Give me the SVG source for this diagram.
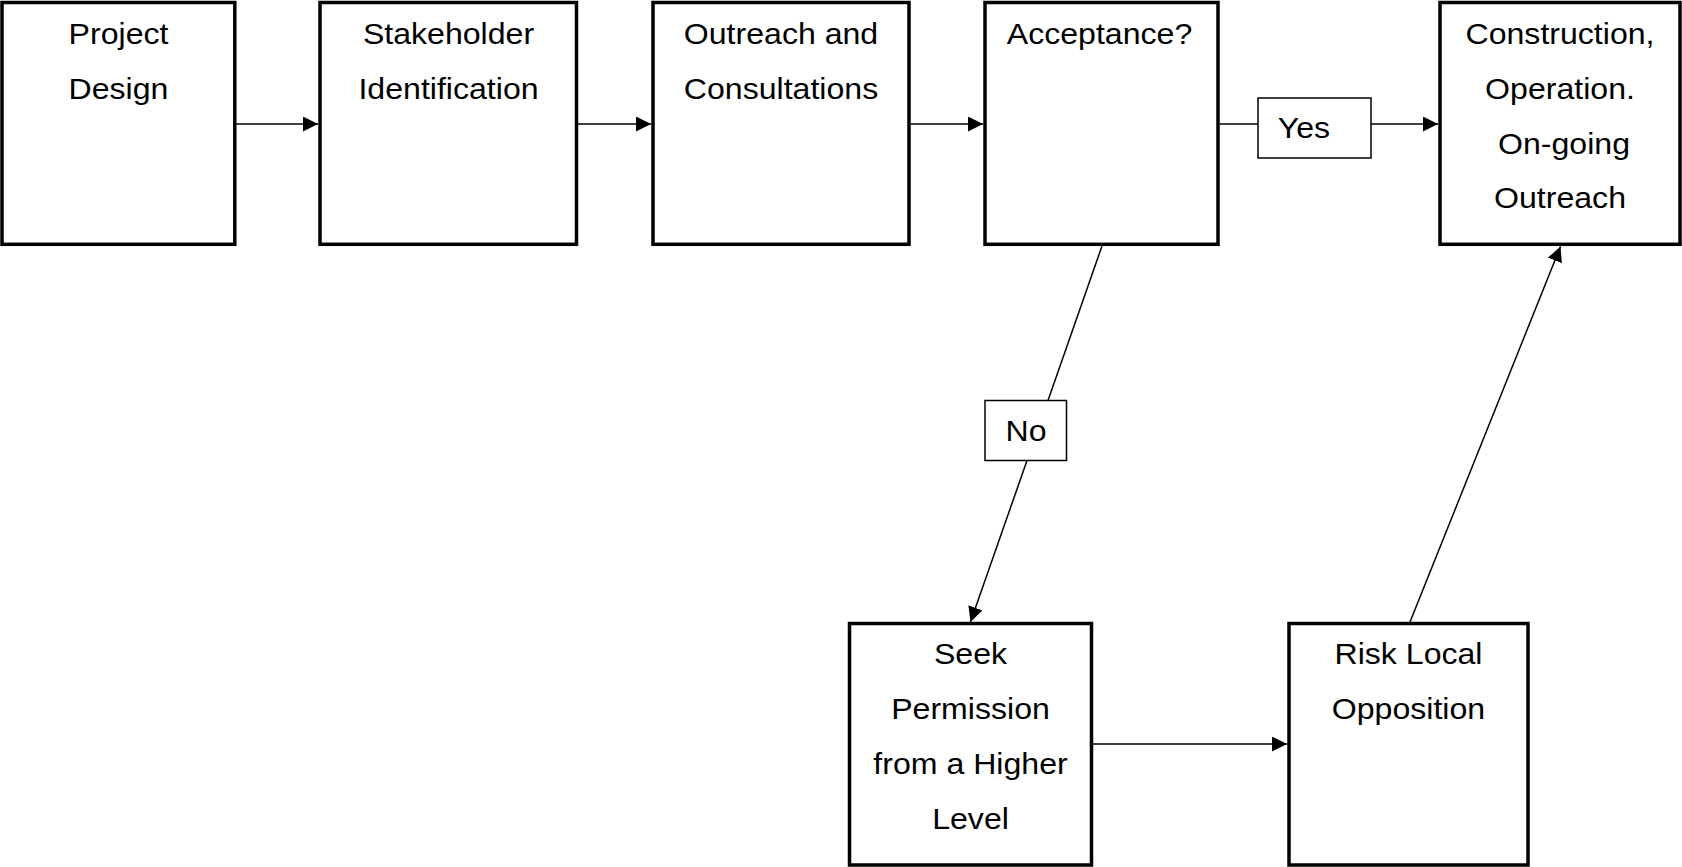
<svg xmlns="http://www.w3.org/2000/svg" width="1682" height="867" viewBox="0 0 1682 867">
<defs>
<style>
.node{fill:#fff;stroke:#000;stroke-width:3.5}
.lbl{fill:#fff;stroke:#000;stroke-width:1.5}
.c{fill:none;stroke:#000;stroke-width:1.5}
text{font-family:"Liberation Sans",Arial,Helvetica,sans-serif;font-size:30px;fill:#000;text-anchor:middle}
</style>
<marker id="ah" markerUnits="userSpaceOnUse" markerWidth="16" markerHeight="16" refX="15" refY="7.5" orient="auto">
<path d="M0,0 L15,7.5 L0,15 z" fill="#000"/>
</marker>
</defs>
<rect width="1682" height="867" fill="#fff"/>
<g id="connectors">
<path class="c" d="M236,124 H318" marker-end="url(#ah)"/>
<path class="c" d="M578,124 H651" marker-end="url(#ah)"/>
<path class="c" d="M911,124 H983" marker-end="url(#ah)"/>
<path class="c" d="M1219.5,124 H1438" marker-end="url(#ah)"/>
<path class="c" d="M1102,246 L970.5,622" marker-end="url(#ah)"/>
<path class="c" d="M1093,744 H1287" marker-end="url(#ah)"/>
<path class="c" d="M1410,622 L1560.5,246.5" marker-end="url(#ah)"/>
<g id="label-yes">
<rect class="lbl" x="1258" y="98" width="113" height="60"/>
<text transform="translate(1304 138) scale(1.07 1)">Yes</text>
</g>
<g id="label-no">
<rect class="lbl" x="985" y="400.5" width="81.5" height="60"/>
<text transform="translate(1026 441) scale(1.07 1)">No</text>
</g>
</g>
<g id="project-design">
<rect class="node" x="2" y="2.5" width="232.8" height="241.8"/>
<text transform="translate(118.5 44.3) scale(1.07 1)">Project</text>
<text transform="translate(118.5 99) scale(1.07 1)">Design</text>
</g>
<g id="stakeholder-identification">
<rect class="node" x="320" y="2.5" width="256.5" height="241.8"/>
<text transform="translate(448.5 44.3) scale(1.07 1)">Stakeholder</text>
<text transform="translate(448.5 99) scale(1.07 1)">Identification</text>
</g>
<g id="outreach-consultations">
<rect class="node" x="653" y="2.5" width="256" height="241.8"/>
<text transform="translate(781 44.3) scale(1.07 1)">Outreach and</text>
<text transform="translate(781 99) scale(1.07 1)">Consultations</text>
</g>
<g id="acceptance">
<rect class="node" x="985" y="2.5" width="233" height="241.8"/>
<text transform="translate(1099.5 44.3) scale(1.07 1)">Acceptance?</text>
</g>
<g id="construction">
<rect class="node" x="1440" y="2.5" width="240" height="241.8"/>
<text transform="translate(1560 44.3) scale(1.07 1)">Construction,</text>
<text transform="translate(1560 99) scale(1.07 1)">Operation.</text>
<text transform="translate(1564 153.5) scale(1.07 1)">On-going</text>
<text transform="translate(1560 208.3) scale(1.07 1)">Outreach</text>
</g>
<g id="seek-permission">
<rect class="node" x="849.5" y="623.5" width="242" height="241.5"/>
<text transform="translate(970.5 664.3) scale(1.07 1)">Seek</text>
<text transform="translate(970.5 719) scale(1.07 1)">Permission</text>
<text transform="translate(970.5 774) scale(1.07 1)">from a Higher</text>
<text transform="translate(970.5 829.3) scale(1.07 1)">Level</text>
</g>
<g id="risk-opposition">
<rect class="node" x="1289" y="623.5" width="239" height="241.5"/>
<text transform="translate(1408.5 664.3) scale(1.07 1)">Risk Local</text>
<text transform="translate(1408.5 719) scale(1.07 1)">Opposition</text>
</g>
</svg>
